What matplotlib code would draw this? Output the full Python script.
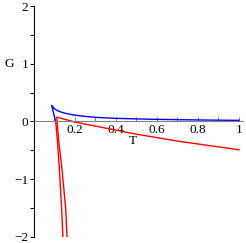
import numpy as np
import matplotlib.pyplot as plt

# blue branch: lower stub, cusp, then the decaying upper branch
blue_T = [0.106, 0.086, 0.10, 0.113, 0.127, 0.15, 0.19, 0.25, 0.31, 0.40, 0.50, 0.60, 0.70, 0.80, 0.90, 1.00]
blue_G = [0.00, 0.28, 0.22, 0.19, 0.17, 0.145, 0.115, 0.088, 0.07, 0.055, 0.045, 0.037, 0.032, 0.027, 0.023, 0.02]

# red: steep left branch joining the blue curve
red1_T = [0.141, 0.135, 0.124, 0.114, 0.106]
red1_G = [-2.0, -1.53, -0.84, -0.32, 0.0]

# red: steep branch up to the cusp, then the slowly falling branch
red2_T = [0.161, 0.155, 0.137, 0.120, 0.111, 0.20, 0.30, 0.40, 0.50, 0.60, 0.70, 0.80, 0.90, 1.00]
red2_G = [-2.0, -1.53, -0.84, -0.32, 0.077, -0.01, -0.08, -0.15, -0.22, -0.28, -0.34, -0.39, -0.44, -0.49]

plt.rcParams['font.family'] = ['Liberation Serif', 'DejaVu Serif']

fig = plt.figure(figsize=(2.46, 2.43), dpi=100)
ax = fig.add_axes([34 / 246, 6.3 / 243, 209 / 246, 230.4 / 243])

ax.plot(blue_T, blue_G, color='#0000ff', lw=1.0)
ax.plot(red1_T, red1_G, color='#ff0000', lw=1.0)
ax.plot(red2_T, red2_G, color='#ff0000', lw=1.0)

ax.set_xlim(0, 1.02)
ax.set_ylim(-2, 2)

for s in ['top', 'right']:
    ax.spines[s].set_visible(False)
ax.spines['left'].set_position(('data', 0))
ax.spines['bottom'].set_position(('data', 0))
ax.spines['bottom'].set_color('#808080')
ax.spines['left'].set_color('black')
ax.spines['left'].set_linewidth(0.8)
ax.spines['bottom'].set_linewidth(0.8)

ax.set_xticks([0.2, 0.4, 0.6, 0.8, 1.0])
ax.set_xticklabels(['0.2', '0.4', '0.6', '0.8', '1'])
ax.set_xticks(np.arange(0.1, 1.01, 0.2), minor=True)
ax.set_yticks([-2, -1, 0, 1, 2])
ax.set_yticklabels(['\u22122', '\u22121', '0', '1', '2'])
ax.set_yticks([-1.5, -0.5, 0.5, 1.5], minor=True)

ax.tick_params(axis='x', which='both', direction='in', length=3, width=0.7,
               colors='#808080', labelcolor='black', labelsize=9.5, pad=2)
ax.tick_params(axis='y', which='both', direction='out', length=3, width=0.7,
               labelsize=9.5, pad=1)

ax.text(-0.12, 1.0, 'G', fontsize=9.5, ha='center', va='center')
ax.text(0.48, -0.34, 'T', fontsize=9.5, ha='center', va='center')

fig.savefig('out.png', dpi=100)
